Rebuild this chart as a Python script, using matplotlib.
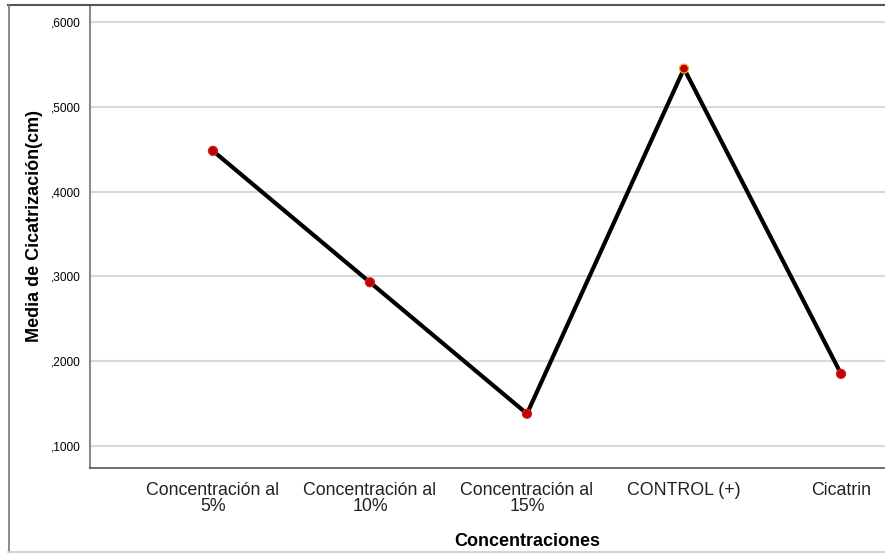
import matplotlib.pyplot as plt
from matplotlib.lines import Line2D

# datos
categorias = ["Concentración al\n5%", "Concentración al\n10%", "Concentración al\n15%",
              "CONTROL (+)", "Cicatrin"]
medias = [0.448, 0.293, 0.138, 0.545, 0.185]
bordes = ["#d02020", "#d02020", "#d02020", "#e8b030", "#d02020"]
yticks = [0.1, 0.2, 0.3, 0.4, 0.5, 0.6]
yticklabels = [",1000", ",2000", ",3000", ",4000", ",5000", ",6000"]

plt.rcParams["font.family"] = ["Liberation Sans", "DejaVu Sans"]

W, H = 885, 554
fig = plt.figure(figsize=(W / 100, H / 100), dpi=100)
ax = fig.add_axes([90 / W, (H - 468) / H, (W - 90) / W, (468 - 5) / H])

x = list(range(len(categorias)))
ax.plot(x, medias, color="black", lw=3, zorder=3)
ax.scatter(x, medias, s=42, color="#c00000", edgecolor=bordes, linewidth=0.9, zorder=4)

ax.set_xlim(-0.783, 4.28)
ax.set_ylim(0.074, 0.62)
ax.set_yticks(yticks)
ax.set_yticklabels(yticklabels, fontsize=8.6)
ax.set_xticks(x)
ax.set_xticklabels(categorias, fontsize=12.8, color="#222222", linespacing=0.95)
ax.tick_params(axis="y", length=0, pad=7)
ax.tick_params(axis="x", length=0, pad=10)
ax.grid(axis="y", color="#d9d9d9", lw=1.5)
ax.set_axisbelow(True)

for lado in ["top", "right"]:
    ax.spines[lado].set_visible(False)
ax.spines["left"].set_color("#8c8c8c")
ax.spines["left"].set_linewidth(1.5)
ax.spines["bottom"].set_color("#555555")
ax.spines["bottom"].set_linewidth(1.2)

fig.text(527 / W, 1 - 542 / H, "Concentraciones", fontsize=13, fontweight="bold",
         ha="center", va="center")
fig.text(35 / W, 1 - 226 / H, "Media de Cicatrización(cm)", fontsize=13, fontweight="bold",
         ha="center", va="center", rotation=90)

# marco exterior
fig.add_artist(Line2D([8 / W, 1], [1 - 4.5 / H, 1 - 4.5 / H], color="#555555", lw=1.5))
fig.add_artist(Line2D([8.5 / W, 8.5 / W], [1 - 4.5 / H, 1 - 552 / H], color="#777777", lw=1.2))
fig.add_artist(Line2D([8 / W, 1], [1 - 552 / H, 1 - 552 / H], color="#cccccc", lw=1.2))

fig.savefig("out.png", dpi=100)
